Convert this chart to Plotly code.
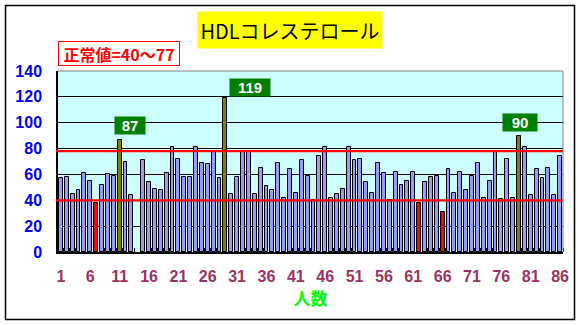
import plotly.graph_objects as go

# ---- data ----
people = list(range(1, 87))
hdl = [57, 58, 45, 48, 61, 55, 38, 52, 60, 59,
       87, 70, 44, None, 71, 54, 49, 48, 61, 81,
       72, 58, 58, 81, 69, 68, 77, 57, 119, 45,
       58, 77, 77, 45, 65, 51, 48, 69, 42, 64,
       46, 71, 59, 40, 74, 81, 42, 45, 49, 81,
       71, 72, 54, 46, 69, 61, 40, 62, 52, 55,
       62, 38, 54, 58, 59, 31, 64, 46, 62, 48,
       59, 69, 42, 55, 78, 41, 72, 42, 90, 81,
       44, 64, 57, 65, 44, 74]
x_tick_vals = list(range(1, 87, 5))
x_tick_text = [str(v) for v in x_tick_vals]
y_tick_vals = [0, 20, 40, 60, 80, 100, 120, 140]
normal_low = 40
normal_high_line = 78
title_text = "HDLコレステロール"
normal_text = "正常値=40～77"
x_title = "人数"

LOW_LIMIT = 40
HIGH_MARK = 85

colors = []
for v in hdl:
    if v is None:
        colors.append("#9999FF")
    elif v < LOW_LIMIT:
        colors.append("#FF0000")
    elif v >= HIGH_MARK:
        colors.append("#808000")
    else:
        colors.append("#9999FF")

fig = go.Figure()
fig.add_trace(go.Bar(
    x=people, y=hdl, width=0.66,
    marker=dict(color=colors, line=dict(color="black", width=1)),
    hoverinfo="x+y",
))

W, H = 578, 325
L, R, T, B = 58, 15, 71, 73
pw, ph = W - L - R, H - T - B

def px_x(p):
    return (p - L) / pw

def px_y(p):
    return (H - B - p) / ph

shapes = []
# normal range lines
for yv in (normal_low, normal_high_line):
    shapes.append(dict(type="line", xref="paper", yref="y", x0=-0.004, x1=1,
                       y0=yv, y1=yv, line=dict(color="#FF0000", width=2.2)))
# grey top/right border of plot area
shapes.append(dict(type="line", xref="paper", yref="paper", x0=0, x1=1, y0=1, y1=1,
                   line=dict(color="#808080", width=1)))
shapes.append(dict(type="line", xref="paper", yref="paper", x0=1, x1=1, y0=0, y1=1,
                   line=dict(color="#808080", width=1)))
# outer chart border
shapes.append(dict(type="rect", xref="paper", yref="paper",
                   x0=px_x(5.5), x1=px_x(574.5), y0=px_y(319.5), y1=px_y(5.5),
                   line=dict(color="black", width=1.5)))

annotations = [
    dict(text=title_text, xref="paper", yref="paper", x=px_x(290), y=px_y(30),
         xanchor="center", yanchor="middle", showarrow=False,
         bgcolor="#FFFF00", width=182, height=34,
         font=dict(family="Noto Sans CJK JP", size=20, color="black")),
    dict(text=normal_text, xref="paper", yref="paper", x=px_x(119), y=px_y(53.5),
         xanchor="center", yanchor="middle", showarrow=False,
         bgcolor="white", bordercolor="#FF0000", borderwidth=1, borderpad=0,
         width=120, height=23,
         font=dict(family="Noto Sans CJK JP", size=16, color="#FF0000", weight="bold")),
]

label_xshift = [10, 25, 1]
label_yshift = [5, 1, 4]
label_width = [28, 38, 32]
k = 0
for n, v in zip(people, hdl):
    if v is not None and v >= HIGH_MARK:
        annotations.append(dict(
            text=str(v), x=n, y=v, xref="x", yref="y", showarrow=False,
            xanchor="center", yanchor="bottom",
            xshift=label_xshift[k], yshift=label_yshift[k],
            bgcolor="#008000", width=label_width[k], height=15,
            font=dict(family="Liberation Sans", size=15, color="white", weight="bold")))
        k += 1

fig.update_layout(
    width=W, height=H,
    margin=dict(l=L, r=R, t=T, b=B, autoexpand=False),
    paper_bgcolor="white", plot_bgcolor="#CCFFFF",
    showlegend=False, bargap=0,
    shapes=shapes, annotations=annotations,
    xaxis=dict(
        range=[0.5, 86.5], tickmode="array", tickvals=x_tick_vals, ticktext=x_tick_text,
        ticks="", showgrid=False, zeroline=False,
        showline=True, linecolor="black", linewidth=1.5,
        ticklabelstandoff=9,
        tickfont=dict(family="Liberation Sans", size=16, color="#993366", weight="bold"),
        minor=dict(ticks="inside", ticklen=4, tickcolor="black", tickwidth=1,
                   tickmode="linear", tick0=0.5, dtick=1, showgrid=False),
        title=dict(text=x_title, standoff=6,
                   font=dict(family="Noto Sans CJK JP", size=17, color="#00FF00", weight="bold")),
    ),
    yaxis=dict(
        range=[0, 140], tickmode="array", tickvals=y_tick_vals,
        showgrid=True, gridcolor="black", gridwidth=1, zeroline=False,
        showline=True, linecolor="black", linewidth=1.5, ticks="",
        ticklabelstandoff=11,
        tickfont=dict(family="Liberation Sans", size=16, color="#0000FF", weight="bold"),
    ),
)

fig.write_html("out.html")
